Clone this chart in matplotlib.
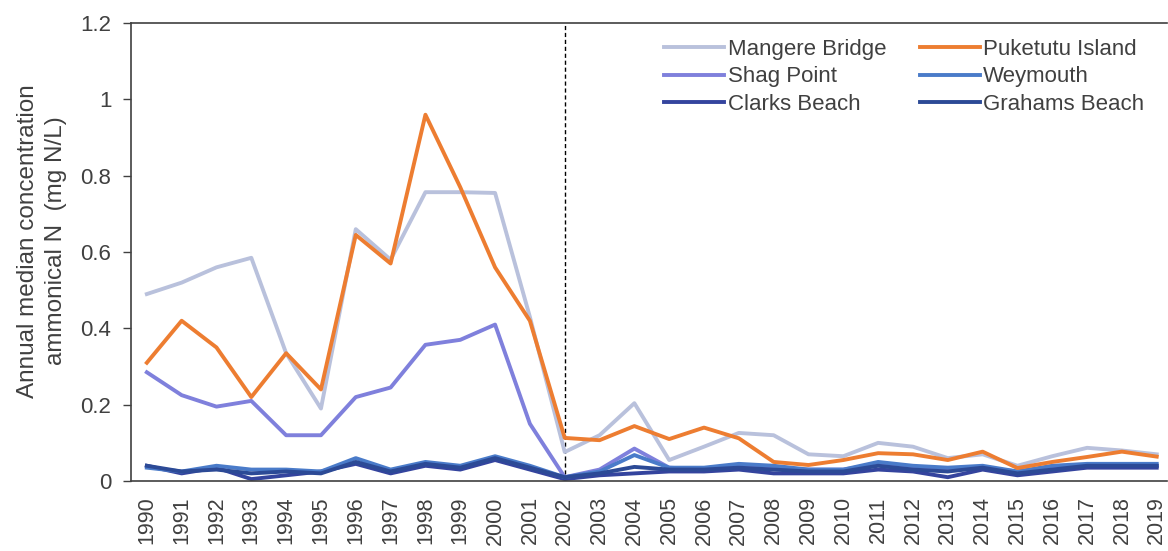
import matplotlib
matplotlib.use("Agg")
import matplotlib.pyplot as plt
import numpy as np

years = list(range(1990, 2020))

mangere_bridge = [0.49, 0.52, 0.56, 0.585, 0.335, 0.19, 0.66, 0.58, 0.757, 0.757, 0.755, 0.43, 0.076,
                  0.12, 0.204, 0.055, 0.09, 0.126, 0.12, 0.07, 0.065, 0.10, 0.09, 0.06, 0.07, 0.04,
                  0.065, 0.087, 0.08, 0.07]
puketutu_island = [0.31, 0.42, 0.35, 0.22, 0.335, 0.24, 0.645, 0.57, 0.96, 0.77, 0.56, 0.42, 0.113,
                   0.107, 0.144, 0.11, 0.14, 0.112, 0.05, 0.042, 0.055, 0.073, 0.07, 0.055, 0.077,
                   0.034, 0.05, 0.063, 0.077, 0.064]
shag_point = [0.285, 0.225, 0.195, 0.21, 0.12, 0.12, 0.22, 0.245, 0.357, 0.37, 0.41, 0.15, 0.01,
              0.03, 0.085, 0.035, 0.03, 0.04, 0.035, 0.03, 0.03, 0.045, 0.035, 0.03, 0.035, 0.025,
              0.035, 0.04, 0.04, 0.04]
weymouth = [0.035, 0.025, 0.04, 0.03, 0.03, 0.025, 0.06, 0.03, 0.05, 0.04, 0.065, 0.04, 0.01,
            0.025, 0.068, 0.035, 0.035, 0.045, 0.04, 0.03, 0.03, 0.05, 0.04, 0.035, 0.04, 0.025,
            0.04, 0.045, 0.045, 0.045]
clarks_beach = [0.04, 0.02, 0.035, 0.005, 0.015, 0.025, 0.045, 0.02, 0.04, 0.03, 0.055, 0.03, 0.005,
                0.015, 0.02, 0.025, 0.025, 0.03, 0.02, 0.02, 0.02, 0.03, 0.025, 0.01, 0.03, 0.015,
                0.025, 0.035, 0.035, 0.035]
grahams_beach = [0.04, 0.025, 0.03, 0.02, 0.025, 0.02, 0.05, 0.025, 0.045, 0.035, 0.06, 0.035, 0.01,
                 0.02, 0.037, 0.03, 0.03, 0.035, 0.03, 0.025, 0.025, 0.04, 0.03, 0.025, 0.035, 0.02,
                 0.03, 0.04, 0.04, 0.04]

series = [
    ("Mangere Bridge", mangere_bridge, "#b9c1dc"),
    ("Shag Point", shag_point, "#7f80dc"),
    ("Clarks Beach", clarks_beach, "#34449e"),
    ("Puketutu Island", puketutu_island, "#ed7d31"),
    ("Weymouth", weymouth, "#4a7bc9"),
    ("Grahams Beach", grahams_beach, "#2c4a96"),
]

plt.rcParams['font.family'] = ['Liberation Sans', 'DejaVu Sans']
txt = "#404040"

fig = plt.figure(figsize=(11.68, 5.51), dpi=100)
ax = fig.add_axes([0.112, 0.127, 0.887, 0.831])

x = np.arange(len(years))
handles = {}
for name, vals, col in series:
    z = 3 if name == "Puketutu Island" else 2
    ln, = ax.plot(x, vals, color=col, lw=2.8, label=name, zorder=z, solid_joinstyle='round')
    handles[name] = ln

ax.axvline(years.index(2002), color="black", lw=1, ls=(0, (3, 2)), zorder=1)

ax.set_xlim(-0.46, len(years) - 1 + 0.29)
ax.set_ylim(0, 1.2)
ax.set_yticks([0, 0.2, 0.4, 0.6, 0.8, 1.0, 1.2])
ax.set_yticklabels(["0", "0.2", "0.4", "0.6", "0.8", "1", "1.2"])
ax.set_xticks(x)
ax.set_xticklabels([str(y) for y in years], rotation=90)
ax.tick_params(axis='y', length=6, width=1, colors="#404040", labelsize=16, labelcolor=txt, pad=8)
ax.tick_params(axis='x', length=0, labelsize=15.5, labelcolor=txt, pad=11)

for s in ["left", "bottom", "top"]:
    ax.spines[s].set_color("#404040")
    ax.spines[s].set_linewidth(1.2)
ax.spines["right"].set_visible(False)

ax.set_ylabel("Annual median concentration\nammonical N  (mg N/L)", fontsize=17.5, color=txt,
              linespacing=1.3, labelpad=7)
ax.yaxis.set_label_coords(-0.062, 0.525)

leg = ax.legend([handles[n] for n, _, _ in series], [n for n, _, _ in series], ncol=2,
                loc="upper right", bbox_to_anchor=(0.993, 1.0), frameon=False, fontsize=16,
                handlelength=2.7, handletextpad=0.15, columnspacing=1.5, labelspacing=0.3,
                borderaxespad=0.3)
for t in leg.get_texts():
    t.set_color(txt)

fig.savefig("out.png", dpi=100)
